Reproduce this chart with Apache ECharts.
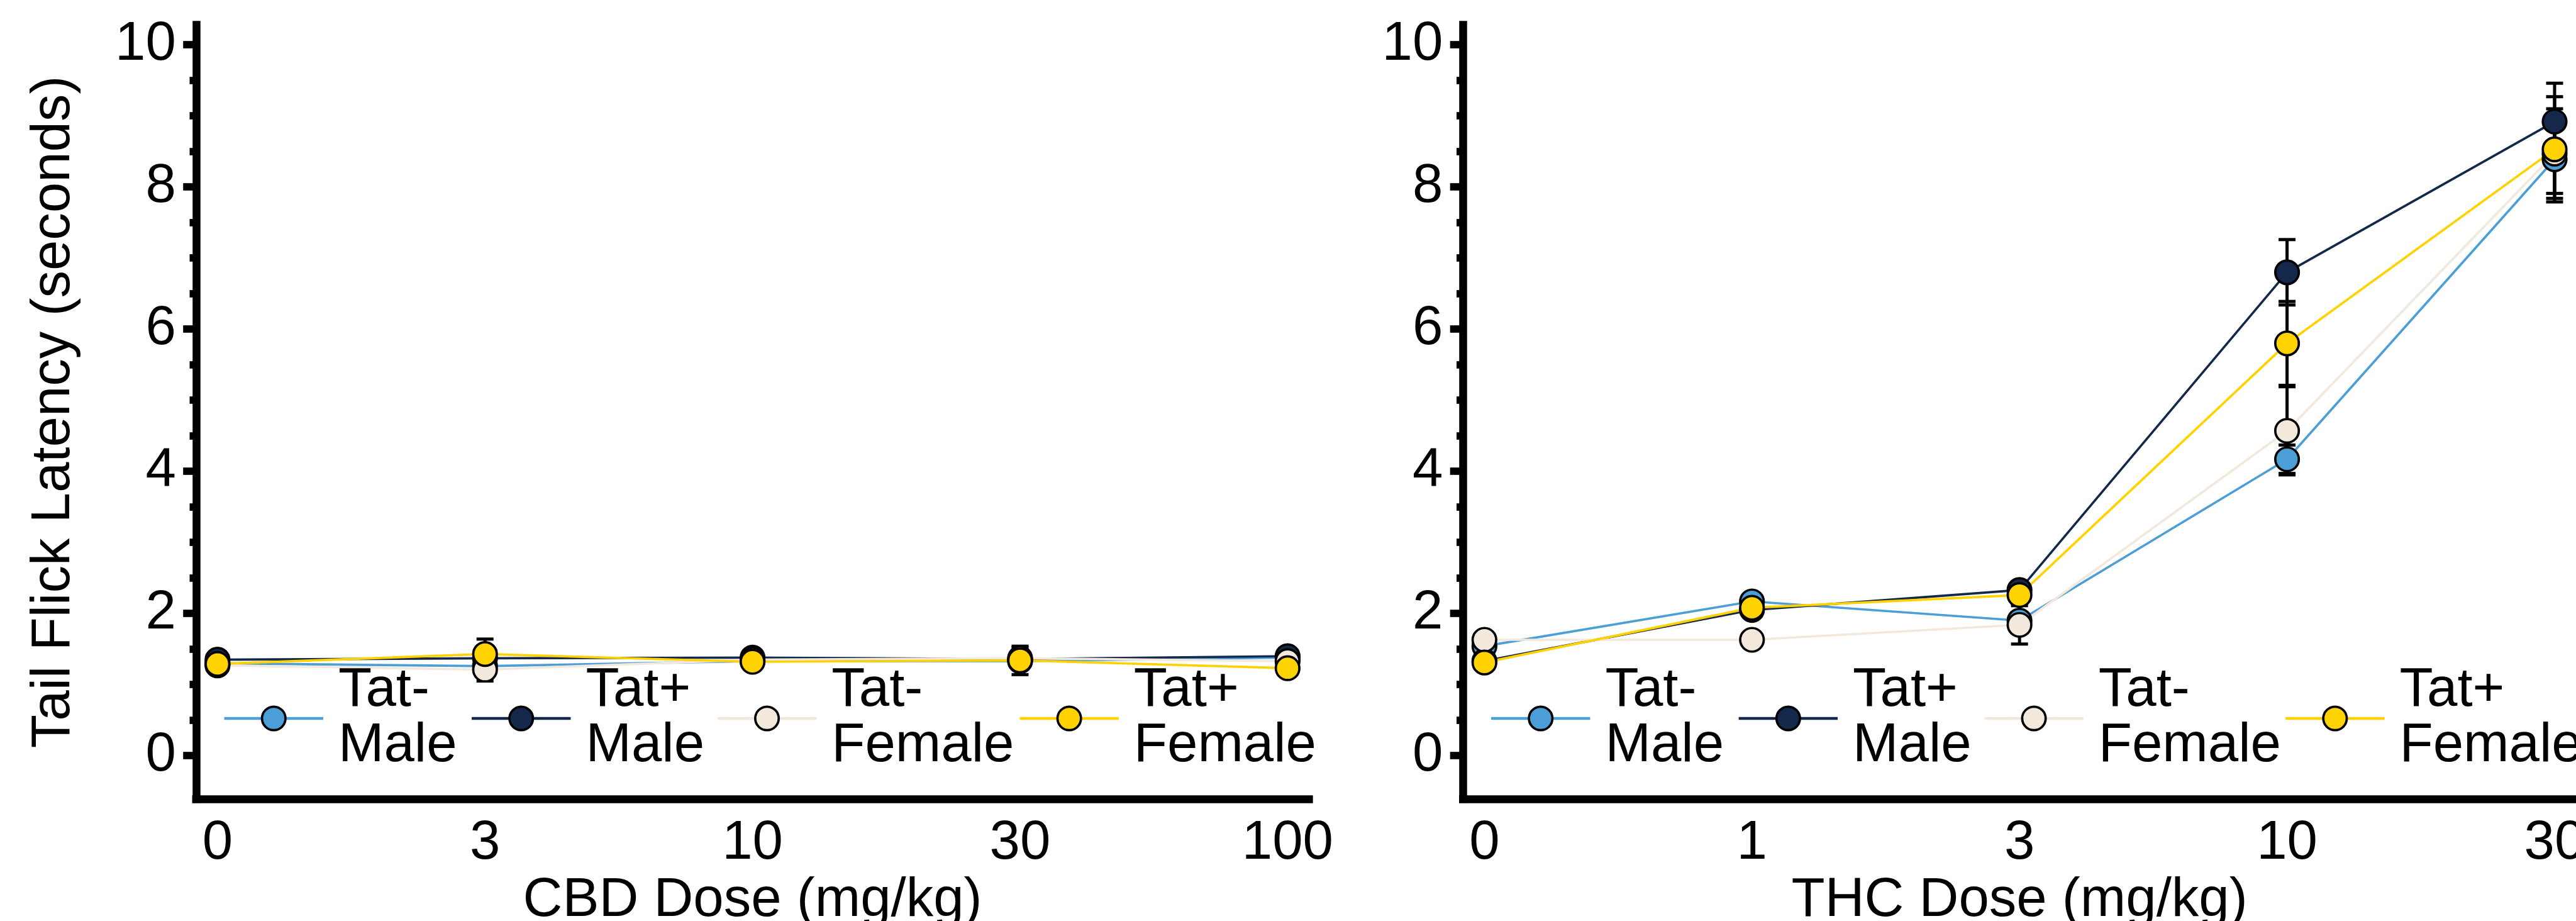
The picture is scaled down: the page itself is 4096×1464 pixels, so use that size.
<!DOCTYPE html>
<html>
<head>
<meta charset="utf-8">
<script src="https://cdn.jsdelivr.net/npm/echarts@6/dist/echarts.min.js"></script>
<style>
html, body { margin: 0; padding: 0; background: #fff; }
#main { width: 4096px; height: 1464px; }
</style>
</head>
<body>
<div id="main"></div>
<script>
var groups = ['Tat-\nMale', 'Tat+\nMale', 'Tat-\nFemale', 'Tat+\nFemale'];
var groupColors = ['#4B9ED6', '#14284B', '#F3E8DC', '#FFD200'];
var cbdDoses = ['0', '3', '10', '30', '100'];
var thcDoses = ['0', '1', '3', '10', '30'];
var yTicks = [0, 2, 4, 6, 8, 10];
var yMinorTicks = [0.5, 1, 1.5, 2.5, 3, 3.5, 4.5, 5, 5.5, 6.5, 7, 7.5, 8.5, 9, 9.5];

// CBD panel: mean and SEM per group
var cbdTatMinusMale = [1.30, 1.26, 1.33, 1.33, 1.38];
var cbdTatPlusMale = [1.35, 1.37, 1.38, 1.36, 1.40];
var cbdTatMinusFemale = [1.27, 1.21, 1.35, 1.37, 1.33];
var cbdTatPlusFemale = [1.29, 1.43, 1.32, 1.34, 1.23];
var cbdSemTatMinusMale = [0.06, 0.08, 0.06, 0.08, 0.05];
var cbdSemTatPlusMale = [0.07, 0.09, 0.08, 0.10, 0.06];
var cbdSemTatMinusFemale = [0.06, 0.16, 0.07, 0.15, 0.07];
var cbdSemTatPlusFemale = [0.07, 0.21, 0.06, 0.20, 0.07];

// THC panel: mean and SEM per group
var thcTatMinusMale = [1.54, 2.17, 1.90, 4.17, 8.39];
var thcTatPlusMale = [1.33, 2.05, 2.33, 6.80, 8.92];
var thcTatMinusFemale = [1.63, 1.63, 1.84, 4.57, 8.47];
var thcTatPlusFemale = [1.31, 2.08, 2.26, 5.80, 8.53];
var thcSemTatMinusMale = [0.08, 0.10, 0.10, 0.20, 0.48];
var thcSemTatPlusMale = [0.07, 0.08, 0.10, 0.46, 0.54];
var thcSemTatMinusFemale = [0.08, 0.10, 0.27, 0.62, 0.63];
var thcSemTatPlusFemale = [0.07, 0.09, 0.12, 0.59, 0.74];

var cbdMeans = [cbdTatMinusMale, cbdTatPlusMale, cbdTatMinusFemale, cbdTatPlusFemale];
var cbdSems = [cbdSemTatMinusMale, cbdSemTatPlusMale, cbdSemTatMinusFemale, cbdSemTatPlusFemale];
var thcMeans = [thcTatMinusMale, thcTatPlusMale, thcTatMinusFemale, thcTatPlusFemale];
var thcSems = [thcSemTatMinusMale, thcSemTatPlusMale, thcSemTatMinusFemale, thcSemTatPlusFemale];

var FONT = '"Liberation Sans", Arial, sans-serif';
var FS = 87;

var chart = echarts.init(document.getElementById('main'));

// mean +/- SEM whiskers with caps
function errorBar(params, api) {
  var x = api.value(0);
  var top = api.coord([x, api.value(2)]);
  var bot = api.coord([x, api.value(1)]);
  var half = 13.5;
  var st = { stroke: '#000', lineWidth: 5 };
  return {
    type: 'group',
    children: [
      { type: 'line', shape: { x1: top[0], y1: top[1], x2: bot[0], y2: bot[1] }, style: st },
      { type: 'line', shape: { x1: top[0] - half, y1: top[1], x2: top[0] + half, y2: top[1] }, style: st },
      { type: 'line', shape: { x1: bot[0] - half, y1: bot[1], x2: bot[0] + half, y2: bot[1] }, style: st }
    ]
  };
}

function xAxisFor(grid, labels, title) {
  return {
    type: 'value', gridIndex: grid, min: -0.08, max: 4.08,
    name: title, nameLocation: 'middle', nameGap: 115,
    nameTextStyle: { fontSize: FS, fontFamily: FONT, color: '#000', lineHeight: FS },
    axisLine: { onZero: false, lineStyle: { color: '#000', width: 12.5, cap: 'square' } },
    axisTick: { show: false },
    splitLine: { show: false },
    axisLabel: {
      customValues: [0, 1, 2, 3, 4], margin: 27,
      fontSize: FS, fontFamily: FONT, color: '#000', lineHeight: FS,
      formatter: function (v) { return labels[Math.round(v)]; }
    }
  };
}

function yAxisMajor(grid, title) {
  return {
    type: 'value', gridIndex: grid, min: -0.61, max: 10.28, position: 'left',
    name: title || '', nameLocation: 'middle', nameGap: 182,
    nameTextStyle: { fontSize: FS, fontFamily: FONT, color: '#000', lineHeight: FS },
    axisLine: { show: true, onZero: false, lineStyle: { color: '#000', width: 12.5, cap: 'square' } },
    axisTick: { show: true, customValues: yTicks, length: 20.6, lineStyle: { color: '#000', width: 11.7 } },
    splitLine: { show: false },
    axisLabel: { customValues: yTicks, margin: 32, fontSize: FS, fontFamily: FONT, color: '#000' }
  };
}

// second axis only for the short minor ticks
function yAxisMinor(grid) {
  return {
    type: 'value', gridIndex: grid, min: -0.61, max: 10.28, position: 'left', offset: 0,
    axisLine: { show: false, onZero: false },
    axisTick: { show: true, customValues: yMinorTicks, length: 10.3, lineStyle: { color: '#000', width: 11.7 } },
    splitLine: { show: false },
    axisLabel: { show: false }
  };
}

var series = [];
var panels = [
  { means: cbdMeans, sems: cbdSems, x: 0, y: 0 },
  { means: thcMeans, sems: thcSems, x: 1, y: 2 }
];
panels.forEach(function (p) {
  groups.forEach(function (g, k) {
    var bars = p.means[k].map(function (m, i) { return [i, m - p.sems[k][i], m + p.sems[k][i]]; });
    series.push({
      type: 'custom', name: 'sem' + p.x + k, xAxisIndex: p.x, yAxisIndex: p.y,
      renderItem: errorBar, data: bars, z: 1, silent: true,
      encode: { x: 0, y: [1, 2] }
    });
  });
  groups.forEach(function (g, k) {
    series.push({
      type: 'line', name: g, xAxisIndex: p.x, yAxisIndex: p.y,
      data: p.means[k].map(function (m, i) { return [i, m]; }),
      symbol: 'circle', symbolSize: 37.5, z: 3,
      lineStyle: { color: groupColors[k], width: 3.7 },
      itemStyle: { color: groupColors[k], borderColor: '#000', borderWidth: 3.7, opacity: 1 },
      emphasis: { disabled: true }
    });
  });
});

// one legend per item so each sits where the original put it
var legendLefts = [354.2, 747.7, 1138.5, 1619.1, 2368.7, 2762.3, 3153.0, 3631.8];
var legends = legendLefts.map(function (l, j) {
  var k = j % 4;
  return {
    data: [groups[k]], left: l, top: 1054, padding: 0,
    itemWidth: 157.4, itemHeight: 46.7, selectedMode: false,
    lineStyle: { width: 4.7 },
    itemStyle: { borderColor: '#000', borderWidth: 3.7 },
    textStyle: { fontSize: FS, lineHeight: 88, fontFamily: FONT, color: '#000', padding: [0, 0, 0, 19] }
  };
});

chart.setOption({
  backgroundColor: '#fff',
  animation: false,
  textStyle: { fontFamily: FONT },
  legend: legends,
  grid: [
    { left: 311.8, right: 2014.6, top: 39.6, bottom: 193.9, outerBoundsMode: 'none', containLabel: false },
    { left: 2326.3, right: 0, top: 39.6, bottom: 193.9, outerBoundsMode: 'none', containLabel: false }
  ],
  xAxis: [
    xAxisFor(0, cbdDoses, 'CBD Dose (mg/kg)'),
    xAxisFor(1, thcDoses, 'THC Dose (mg/kg)')
  ],
  yAxis: [
    yAxisMajor(0, 'Tail Flick Latency (seconds)'),
    yAxisMinor(0),
    yAxisMajor(1, ''),
    yAxisMinor(1)
  ],
  series: series
});
</script>
</body>
</html>
